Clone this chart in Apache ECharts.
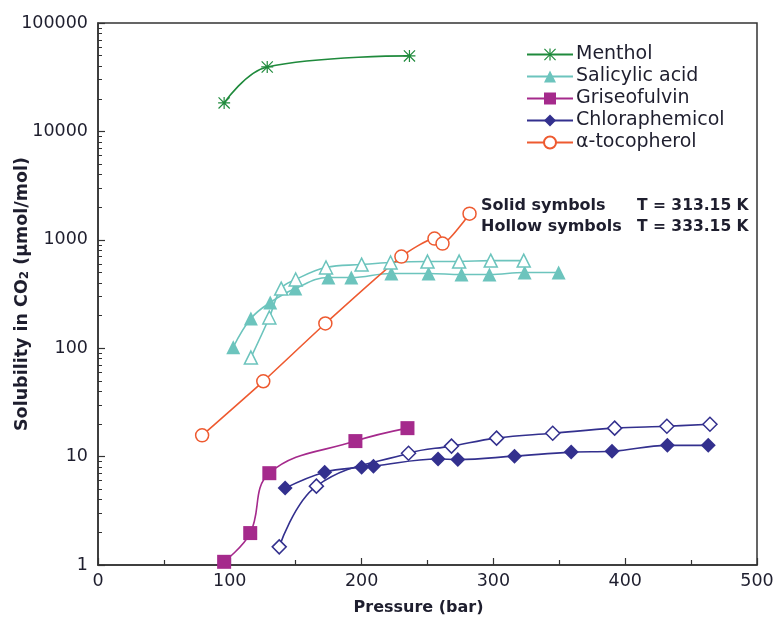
<!DOCTYPE html>
<html>
<head>
<meta charset="utf-8">
<script src="https://cdn.jsdelivr.net/npm/echarts@6/dist/echarts.min.js"></script>
<style>html,body{margin:0;padding:0;background:#fff}#c{width:777px;height:622px}</style>
</head>
<body>
<div id="c"></div>
<script>
// Data (pressure in bar, solubility in µmol/mol)
var mentholP = [95.7, 128.4, 236.3];
var mentholS = [18300, 39300, 49700];

var salicylicSolidP = [102.6, 116, 130.7, 149.7, 174.8, 192.2, 222.6, 250.8, 275.8, 297, 323.7, 349.5];
var salicylicSolidS = [102, 188, 264, 355, 449, 449, 489, 489, 478, 478, 499, 499];

var salicylicHollowP = [116, 130, 139, 150, 173, 200, 222, 250, 274, 298, 323];
var salicylicHollowS = [82, 192, 355, 430, 555, 591, 617, 630, 630, 643, 643];

var griseoP = [95.7, 115.5, 130, 195.3, 234.8];
var griseoS = [1.07, 1.97, 7.03, 13.9, 18.3];

var chloraSolidP = [142, 172, 200, 209, 258, 273, 316, 359, 390, 432, 463];
var chloraSolidS = [5.12, 7.18, 7.99, 8.16, 9.5, 9.4, 10.1, 11.0, 11.2, 12.7, 12.7];

var chloraHollowP = [137.5, 165.7, 235.6, 268.2, 302.4, 345, 392, 431.6, 464.3];
var chloraHollowS = [1.47, 5.34, 10.75, 12.5, 14.8, 16.4, 18.3, 19.05, 19.9];

var tocoP = [79, 125.4, 172.5, 230.2, 255.3, 261.4, 281.9];
var tocoS = [15.7, 49.5, 169, 700, 1026, 923, 1742];

var legendNames = ['Menthol', 'Salicylic acid', 'Griseofulvin', 'Chloraphemicol', '\u03b1-tocopherol'];
var yMinorTicks = [];
[1, 10, 100, 1000, 10000].forEach(function (d) { for (var k = 2; k <= 9; k++) yMinorTicks.push(d * k); });

function pairs(xs, ys) { return xs.map(function (x, i) { return [x, ys[i]]; }); }

var cGreen = '#1f8a3c', cTeal = '#6cc4bd', cMag = '#a52a8c', cNavy = '#33308e', cOrange = '#ee5a30';
var asterisk = 'path://M9,0L11,0L11,20L9,20Z M0,9L20,9L20,11L0,11Z M1.4,0L20,18.6L18.6,20L0,1.4Z M18.6,0L20,1.4L1.4,20L0,18.6Z';

var chart = echarts.init(document.getElementById('c'), null, { renderer: 'canvas' });
var font = 'DejaVu Sans, Verdana, sans-serif';
var txt = '#1e1e2e';
chart.setOption({
  animation: false,
  backgroundColor: '#fff',
  textStyle: { fontFamily: font },
  grid: { left: 98, right: 20, top: 23, bottom: 57, containLabel: false, outerBoundsMode: 'none',
    show: true, borderColor: '#333', borderWidth: 1.5, backgroundColor: 'transparent' },
  legend: {
    data: legendNames,
    orient: 'vertical',
    left: 521, top: 40,
    itemWidth: 46, itemHeight: 15, itemGap: 3,
    textStyle: { fontSize: 19, color: txt, fontFamily: font, padding: [0, 0, 0, -2] }
  },
  xAxis: {
    type: 'value', min: 0, max: 500, interval: 100,
    name: 'Pressure (bar)', nameLocation: 'middle', nameGap: 35, nameMoveOverlap: false,
    nameTextStyle: { fontSize: 16, fontWeight: 'bold', color: txt, padding: [0, 18, 0, 0] },
    axisLine: { lineStyle: { color: '#333', width: 1.5 } },
    axisTick: { inside: true, length: 7, lineStyle: { color: '#333', width: 1.2 } },
    minorTick: { show: true, splitNumber: 2, length: 5, lineStyle: { color: '#333', width: 1.2 } },
    axisLabel: { fontSize: 17.5, color: txt, margin: 7 },
    splitLine: { show: false }
  },
  yAxis: [{
    type: 'log', logBase: 10, min: 1, max: 100000,
    name: 'Solubility in CO{sub|2} (\u03bcmol/mol)', nameLocation: 'middle', nameGap: 67, nameMoveOverlap: false,
    nameTextStyle: { fontSize: 17.5, fontWeight: 'bold', color: txt,
      rich: { sub: { fontSize: 12, fontWeight: 'bold', color: txt, verticalAlign: 'bottom', padding: [6, 0, 0, 0] } } },
    axisLine: { show: true, lineStyle: { color: '#333', width: 1.5 } },
    axisTick: { inside: true, length: 7, lineStyle: { color: '#333', width: 1.2 } },
    axisLabel: { fontSize: 17.5, color: txt, margin: 10, formatter: function (v) { return String(Math.round(v)); } },
    splitLine: { show: false }
  }, {
    type: 'log', logBase: 10, min: 1, max: 100000, position: 'left',
    axisLine: { show: false },
    axisLabel: { show: false },
    splitLine: { show: false },
    axisTick: { show: true, inside: true, length: 4, customValues: yMinorTicks, lineStyle: { color: '#333', width: 1 } }
  }],
  graphic: [
    { type: 'text', left: 481, top: 198, style: { text: 'Solid symbols', font: 'bold 16px ' + font, fill: txt } },
    { type: 'text', left: 637, top: 198, style: { text: 'T = 313.15 K', font: 'bold 15.5px ' + font, fill: txt } },
    { type: 'text', left: 481, top: 219, style: { text: 'Hollow symbols', font: 'bold 16px ' + font, fill: txt } },
    { type: 'text', left: 637, top: 219, style: { text: 'T = 333.15 K', font: 'bold 15.5px ' + font, fill: txt } }
  ],
  series: [
    { name: 'Menthol', type: 'line', smooth: 0.4, data: pairs(mentholP, mentholS),
      symbol: asterisk, symbolSize: 12, lineStyle: { color: cGreen, width: 1.6 }, itemStyle: { color: cGreen } },
    { name: 'Salicylic acid', type: 'line', smooth: 0.4, data: pairs(salicylicSolidP, salicylicSolidS),
      symbol: 'triangle', symbolSize: 14, lineStyle: { color: cTeal, width: 1.6 }, itemStyle: { color: cTeal } },
    { name: 'Salicylic acid hollow', type: 'line', smooth: 0.4, data: pairs(salicylicHollowP, salicylicHollowS),
      symbol: 'triangle', symbolSize: 13, showAllSymbol: true, lineStyle: { color: cTeal, width: 1.6 },
      itemStyle: { color: '#fff', borderColor: cTeal, borderWidth: 1.5 } },
    { name: 'Griseofulvin', type: 'line', smooth: 0.4, data: pairs(griseoP, griseoS),
      symbol: 'rect', symbolSize: 14, lineStyle: { color: cMag, width: 1.6 }, itemStyle: { color: cMag } },
    { name: 'Chloraphemicol', type: 'line', smooth: 0.4, data: pairs(chloraSolidP, chloraSolidS),
      symbol: 'diamond', symbolSize: 15, lineStyle: { color: cNavy, width: 1.6 }, itemStyle: { color: cNavy } },
    { name: 'Chloraphemicol hollow', type: 'line', smooth: 0.4, data: pairs(chloraHollowP, chloraHollowS),
      symbol: 'diamond', symbolSize: 14, lineStyle: { color: cNavy, width: 1.6 },
      itemStyle: { color: '#fff', borderColor: cNavy, borderWidth: 1.5 } },
    { name: '\u03b1-tocopherol', type: 'line', smooth: 0.2, data: pairs(tocoP, tocoS),
      symbol: 'circle', symbolSize: 13, lineStyle: { color: cOrange, width: 1.6 },
      itemStyle: { color: '#fff', borderColor: cOrange, borderWidth: 1.5 } }
  ]
});
</script>
</body>
</html>
